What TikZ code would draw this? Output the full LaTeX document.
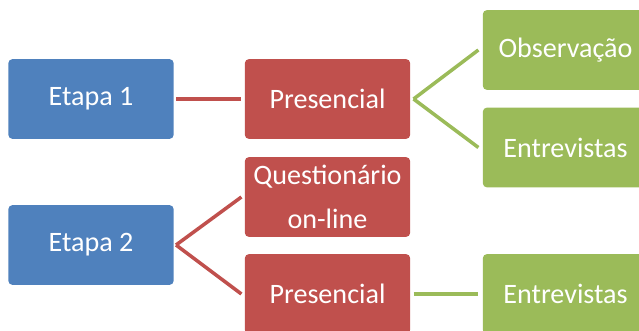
\documentclass[tikz,border=0pt]{standalone}
\usepackage{fontspec}
\setmainfont{Carlito}
\definecolor{etapablue}{HTML}{4F81BD}
\definecolor{modored}{HTML}{C0504D}
\definecolor{tecgreen}{HTML}{9BBB59}

\begin{document}
\begin{tikzpicture}[x=0.02cm, y=-0.02cm,
    box/.style={rectangle, rounded corners=2.5pt, minimum width=3.31cm,
      minimum height=1.6cm, inner sep=0pt, align=center, text=white,
      font=\fontsize{16}{25}\selectfont},
    etapa/.style={box, fill=etapablue},
    modo/.style={box, fill=modored},
    tecnica/.style={box, fill=tecgreen},
    redline/.style={draw=modored, line width=2pt},
    greenline/.style={draw=tecgreen, line width=2pt}]
    \clip (0,0) rectangle (639,331);
    % etapas
    \node [etapa] (etapa1) at (91,99) {Etapa 1};
    \node [etapa] (etapa2) at (91,245) {Etapa 2};
    % modos
    \node [modo] (pres1) at (327.5,99) {Presencial};
    \node [modo] (quest) at (327.5,197) {Questionário\\on-line};
    \node [modo] (pres2) at (327.5,294) {Presencial};
    % tecnicas
    \node [tecnica] (obs) at (565.5,50) {Observação};
    \node [tecnica] (entr1) at (565.5,147.5) {Entrevistas};
    \node [tecnica] (entr2) at (565.5,294) {Entrevistas};
    % ligacoes
    \draw [redline] ([xshift=1.1pt]etapa1.east) -- ([xshift=-1.7pt]pres1.west);
    \draw [redline] ([xshift=1.1pt]etapa2.east) -- ([xshift=-1.7pt]quest.west);
    \draw [redline] ([xshift=1.1pt]etapa2.east) -- ([xshift=-1.7pt]pres2.west);
    \draw [greenline] ([xshift=1.7pt]pres1.east) -- ([xshift=-2.3pt]obs.west);
    \draw [greenline] ([xshift=1.7pt]pres1.east) -- ([xshift=-2.3pt]entr1.west);
    \draw [greenline] ([xshift=1.7pt]pres2.east) -- ([xshift=-2.3pt]entr2.west);
\end{tikzpicture}
\end{document}
